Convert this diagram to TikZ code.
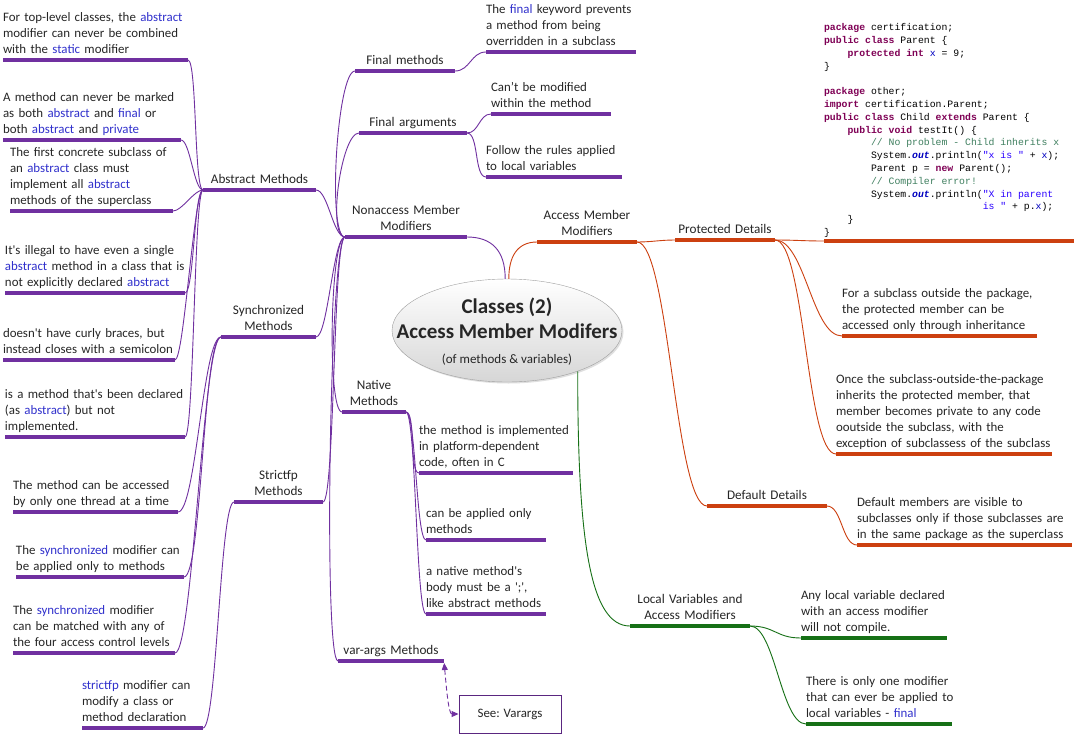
\documentclass[tikz,border=0pt]{standalone}
\usepackage{fontspec}
\setmainfont{Carlito}
\setmonofont{Liberation Mono}
\usetikzlibrary{arrows.meta,shapes.geometric,shadows}

\definecolor{mmpurple}{RGB}{112,48,160}
\definecolor{mmorange}{RGB}{204,64,16}
\definecolor{mmgreen}{RGB}{22,112,22}
\definecolor{mmtext}{RGB}{38,38,38}
\definecolor{kwblue}{RGB}{48,48,204}
\definecolor{jkw}{RGB}{127,0,85}
\definecolor{jfield}{RGB}{0,0,192}
\definecolor{jstr}{RGB}{42,0,255}
\definecolor{jcom}{RGB}{63,127,95}

\newcommand{\kw}[1]{\textcolor{kwblue}{#1}}
\newcommand{\jk}[1]{\textcolor{jkw}{\textbf{#1}}}
\newcommand{\jf}[1]{\textcolor{jfield}{#1}}
\newcommand{\js}[1]{\textcolor{jstr}{#1}}
\newcommand{\jc}[1]{\textcolor{jcom}{#1}}
\newcommand{\jout}{\textcolor{jfield}{\textbf{\textit{out}}}}
\newcommand{\csp}{\hspace{0.6em}}% one code column
\newcommand{\apos}{\textquotesingle}
% lines of a note, never broken, baseline on the last line
\newcommand{\note}[1]{\begin{tabular}[b]{@{}l@{}}#1\end{tabular}}

\begin{document}
\begin{tikzpicture}[x=1pt, y=1pt,
	every node/.style={text=mmtext, font=\fontsize{12.9}{16}\selectfont},
	topic/.style={
		anchor=south west, inner xsep=0pt, inner ysep=1.7pt, outer sep=0pt,
		text width=#1, execute at end node={\strut}
	},
	leaf/.style={topic=#1, align=left},
	branch/.style={topic=#1, align=center, font=\fontsize{13.2}{16}\selectfont},
	codeblock/.style={
		topic=250pt, align=left, text=black,
		font=\ttfamily\fontsize{9.8}{12.8}\selectfont
	},
	hub/.style={
		ellipse, draw=gray!75, top color=white, bottom color=black!16,
		minimum width=230pt, minimum height=103pt, inner sep=0pt,
		drop shadow={opacity=0.25, shadow xshift=1.5pt, shadow yshift=-1.5pt}
	},
	seebox/.style={
		draw=mmpurple!80!black, line width=0.9pt,
		minimum width=102pt, minimum height=38pt, inner sep=0pt
	},
	uline/.style={draw=#1, line width=4.5pt},
	link/.style={draw=#1, line width=0.9pt},
	goleft/.style={out=180, in=0, out distance=#1, in distance=#1},
	goright/.style={out=0, in=180, out distance=#1, in distance=#1},
	goround/.style={out=180, in=180, out distance=#1, in distance=#1},
	]
	\fill[white] (0,0) rectangle (1079,-734);
	\useasboundingbox (0,0) rectangle (1079,-734);

	% central topic
	\node[hub] (cent) at (507,-330.5) {};
	\node[anchor=base, font=\bfseries\fontsize{21}{25}\selectfont] (ttl1) at (507,-313) {Classes (2)};
	\node[anchor=base, font=\bfseries\fontsize{21}{25}\selectfont] (ttl2) at (507,-338) {Access Member Modifers};
	\node[anchor=base, font=\fontsize{13}{16}\selectfont] (ttl3) at (507,-363) {(of methods \& variables)};

	% branches
	\node[branch=122pt] (nonacc) at (345,-237) {Nonaccess Member\\Modifiers};
	\node[branch=100pt] (finalm) at (355,-71) {Final methods};
	\node[branch=108pt] (finala) at (359,-133) {Final arguments};
	\node[branch=113pt] (abstr) at (203,-190) {Abstract Methods};
	\node[branch=95pt] (sync) at (221,-337) {Synchronized\\Methods};
	\node[branch=89pt] (strict) at (234,-502) {Strictfp\\Methods};
	\node[branch=64pt] (native) at (342,-412) {Native\\Methods};
	\node[branch=106pt] (varargs) at (338,-661) {var-args Methods};
	\node[branch=100pt] (access) at (537,-242) {Access Member\\Modifiers};
	\node[branch=100pt] (prot) at (675,-240) {Protected Details};
	\node[branch=120pt] (default) at (707,-506) {Default Details};
	\node[branch=120pt] (local) at (630,-626) {Local Variables and\\Access Modifiers};

	% abstract methods
	\node[leaf=185pt] (a1) at (3,-60) {\note{For top-level classes, the \kw{abstract}\\modifier can never be combined\\with the \kw{static} modifier}};
	\node[leaf=178pt] (a2) at (3,-140) {\note{A method can never be marked\\as both \kw{abstract} and \kw{final} or\\both \kw{abstract} and \kw{private}}};
	\node[leaf=163pt] (a3) at (10,-211) {\note{The first concrete subclass of\\an \kw{abstract} class must\\implement all \kw{abstract}\\methods of the superclass}};
	\node[leaf=180pt] (a4) at (5,-293) {\note{It\apos s illegal to have even a single\\\kw{abstract} method in a class that is\\not explicitly declared \kw{abstract}}};
	\node[leaf=172pt] (a5) at (3,-360) {\note{doesn\apos t have curly braces, but\\instead closes with a semicolon}};
	\node[leaf=180pt] (a6) at (5,-437) {\note{is a method that\apos s been declared\\(as \kw{abstract}) but not\\implemented.}};
	% synchronized / strictfp
	\node[leaf=165pt] (s1) at (13,-512) {\note{The method can be accessed\\by only one thread at a time}};
	\node[leaf=168pt] (s2) at (16,-577) {\note{The \kw{synchronized} modifier can\\be applied only to methods}};
	\node[leaf=162pt] (s3) at (13,-653) {\note{The \kw{synchronized} modifier\\can be matched with any of\\the four access control levels}};
	\node[leaf=121pt] (f1) at (82,-728) {\note{\kw{strictfp} modifier can\\modify a class or\\method declaration}};
	% native
	\node[leaf=154pt] (n1) at (419,-473) {\note{the method is implemented\\in platform-dependent\\code, often in C}};
	\node[leaf=120pt] (n2) at (426,-540) {\note{can be applied only\\methods}};
	\node[leaf=120pt] (n3) at (426,-614) {\note{a native method\apos s\\body must be a \apos;\apos,\\like abstract methods}};
	% final
	\node[leaf=150pt] (fm1) at (486,-52) {\note{The \kw{final} keyword prevents\\a method from being\\overridden in a subclass}};
	\node[leaf=120pt] (fa1) at (491,-114) {\note{Can’t be modified\\within the method}};
	\node[leaf=136pt] (fa2) at (486,-177) {\note{Follow the rules applied\\to local variables}};
	% protected / default
	\node[codeblock] (code) at (824,-241) {\note{\jk{package}\csp certification;\\
		\jk{public}\csp\jk{class}\csp Parent\csp\{\\
		\hspace*{2.4em}\jk{protected}\csp\jk{int}\csp\jf{x}\csp=\csp9;\\
		\}\\
		\\
		\jk{package}\csp other;\\
		\jk{import}\csp certification.Parent;\\
		\jk{public}\csp\jk{class}\csp Child\csp\jk{extends}\csp Parent\csp\{\\
		\hspace*{2.4em}\jk{public}\csp\jk{void}\csp testIt()\csp\{\\
		\hspace*{4.8em}\jc{//\csp No\csp problem\csp-\csp Child\csp inherits\csp x}\\
		\hspace*{4.8em}System.\jout.println(\js{"x\csp is\csp"}\csp+\csp\jf{x});\\
		\hspace*{4.8em}Parent\csp p\csp=\csp\jk{new}\csp Parent();\\
		\hspace*{4.8em}\jc{//\csp Compiler\csp error!}\\
		\hspace*{4.8em}System.\jout.println(\js{"X\csp in\csp parent}\\
		\hspace*{16.2em}\js{is\csp"}\csp+\csp p.\jf{x});\\
		\hspace*{2.4em}\}\\
		\}}};
	\node[leaf=195pt] (p1) at (842,-336) {\note{For a subclass outside the package,\\the protected member can be\\accessed only through inheritance}};
	\node[leaf=216pt] (p2) at (836,-454) {\note{Once the subclass-outside-the-package\\inherits the protected member, that\\member becomes private to any code\\ooutside the subclass, with the\\exception of subclassess of the subclass}};
	\node[leaf=215pt] (d1) at (857,-545) {\note{Default members are visible to\\subclasses only if those subclasses are\\in the same package as the superclass}};
	% local variables
	\node[leaf=146pt] (l1) at (801,-638) {\note{Any local variable declared\\with an access modifier\\will not compile.}};
	\node[leaf=146pt] (l2) at (806,-724) {\note{There is only one modifier\\that can ever be applied to\\local variables - \kw{final}}};

	\node[seebox] (seeva) at (510,-714) {See: Varargs};

	% connectors from the centre
	\path[link=mmpurple] (cent.92) to[out=90, in=0, out distance=28pt, in distance=25pt] (nonacc.south east);
	\path[link=mmorange] (cent.88) to[out=90, in=180, out distance=22pt, in distance=20pt] (access.south west);
	\path[link=mmgreen] (cent.-30) to[out=-90, in=180, out distance=170pt, in distance=40pt] (local.south west);

	% nonaccess member modifiers
	\foreach \n/\d in {finalm/18pt, finala/18pt, native/15pt, varargs/15pt}
		\path[link=mmpurple] (nonacc.south west) to[goround=\d] (\n.south west);
	\foreach \n in {abstr, sync, strict}
		\path[link=mmpurple] (nonacc.south west) to[goleft=12pt] (\n.south east);
	\path[link=mmpurple] (finalm.south east) to[goright=15pt] (fm1.south west);
	\foreach \n in {fa1, fa2}
		\path[link=mmpurple] (finala.south east) to[goright=12pt] (\n.south west);
	\foreach \n in {a1, a2, a3, a4, a5, a6}
		\path[link=mmpurple] (abstr.south west) to[goleft=9pt] (\n.south east);
	\foreach \n in {s1, s2, s3}
		\path[link=mmpurple] (sync.south west) to[goleft=18pt] (\n.south east);
	\path[link=mmpurple] (strict.south west) to[goleft=14pt] (f1.south east);
	\foreach \n in {n1, n2, n3}
		\path[link=mmpurple] (native.south east) to[goright=10pt] (\n.south west);
	\path[link=mmpurple, dash pattern=on 5pt off 3pt, shorten <=2pt,
		{Triangle[length=7pt,width=6pt]}-{Triangle[length=7pt,width=6pt]}]
		(varargs.south east) to[out=-85, in=180, out distance=25pt, in distance=10pt] (seeva.west);

	% access member modifiers
	\foreach \n/\d in {prot/15pt, default/32pt}
		\path[link=mmorange] (access.south east) to[goright=\d] (\n.south west);
	\foreach \n/\d in {code/20pt, p1/30pt, p2/30pt}
		\path[link=mmorange] (prot.south east) to[goright=\d] (\n.south west);
	\path[link=mmorange] (default.south east) to[goright=15pt] (d1.south west);

	% local variables
	\foreach \n in {l1, l2}
		\path[link=mmgreen] (local.south east) to[goright=25pt] (\n.south west);

	% underlines
	\foreach \n in {nonacc, finalm, finala, abstr, sync, strict, native, varargs,
			a1, a2, a3, a4, a5, a6, s1, s2, s3, f1, n1, n2, n3, fm1, fa1, fa2}
		\draw[uline=mmpurple] (\n.south west) -- (\n.south east);
	\foreach \n in {access, prot, default, code, p1, p2, d1}
		\draw[uline=mmorange] (\n.south west) -- (\n.south east);
	\foreach \n in {local, l1, l2}
		\draw[uline=mmgreen] (\n.south west) -- (\n.south east);
\end{tikzpicture}
\end{document}
